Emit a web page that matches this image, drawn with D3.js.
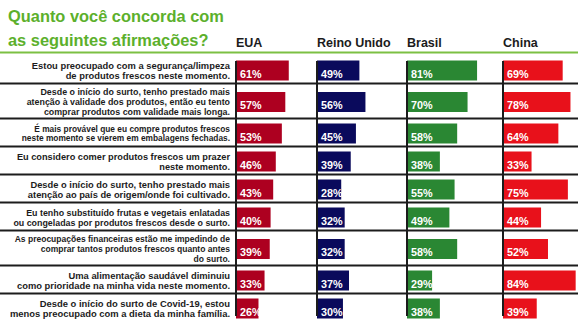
<!DOCTYPE html>
<html>
<head>
<meta charset="utf-8">
<script src="https://cdn.jsdelivr.net/npm/d3@7"></script>
<style>
  html, body { margin: 0; padding: 0; background: #fff; }
  svg { display: block; font-family: "Liberation Sans", Arial, sans-serif; }
</style>
</head>
<body>
<svg id="chart" width="582" height="324"></svg>
<script>
// ---- data ----
const titleLines = ["Quanto você concorda com", "as seguintes afirmações?"];
const countries = ["EUA", "Reino Unido", "Brasil", "China"];
const statements = [
  ["Estou preocupado com a segurança/limpeza", "de produtos frescos neste momento."],
  ["Desde o início do surto, tenho prestado mais", "atenção à validade dos produtos, então eu tento", "comprar produtos com validade mais longa."],
  ["É mais provável que eu compre produtos frescos", "neste momento se vierem em embalagens fechadas."],
  ["Eu considero comer produtos frescos um prazer", "neste momento."],
  ["Desde o início do surto, tenho prestado mais", "atenção ao país de origem/onde foi cultivado."],
  ["Eu tenho substituído frutas e vegetais enlatadas", "ou congeladas por produtos frescos desde o surto."],
  ["As preocupações financeiras estão me impedindo de", "comprar tantos produtos frescos quanto antes", "do surto."],
  ["Uma alimentação saudável diminuiu", "como prioridade na minha vida neste momento."],
  ["Desde o início do surto de Covid-19, estou", "menos preocupado com a dieta da minha família."]
];
const valuesEUA    = [61, 57, 53, 46, 43, 40, 39, 33, 26];
const valuesUK     = [49, 56, 45, 39, 28, 32, 32, 37, 30];
const valuesBrasil = [81, 70, 58, 38, 55, 49, 58, 29, 38];
const valuesChina  = [69, 78, 64, 33, 75, 44, 52, 84, 39];

// ---- styling / layout ----
const seriesValues = [valuesEUA, valuesUK, valuesBrasil, valuesChina];
const colors = ["#ad0020", "#0a0a5c", "#2a8733", "#e8111b"];
const colX = [236, 317, 407, 503];
const green = "#5cb02c";
const ink = "#1c1c1c";
// text box width each statement is fitted to (as in the source slide)
const labelFitWidth = [198, 203, 208, 213, 202, 216, 215, 213, 220];

const svg = d3.select("#chart");

// title
svg.append("g").selectAll("text").data(titleLines).join("text")
  .attr("x", 8)
  .attr("y", (d, i) => 22 + i * 23.5)
  .attr("fill", green)
  .attr("font-size", 16.4)
  .attr("font-weight", "bold")
  .text(d => d);

// headers
svg.append("g").selectAll("text").data(countries).join("text")
  .attr("x", (d, i) => colX[i])
  .attr("y", 47)
  .attr("fill", ink)
  .attr("font-size", 12.5)
  .attr("font-weight", "bold")
  .text(d => d);

// green rule
svg.append("line")
  .attr("x1", 0).attr("x2", 578).attr("y1", 52.5).attr("y2", 52.5)
  .attr("stroke", "#7cc043").attr("stroke-width", 2);

// rows layout: height depends on number of text lines
const rowH = statements.map(s => s.length === 3 ? 35 : 28);
const rowTop = [];
let acc = 55.5;
rowH.forEach(h => { rowTop.push(acc); acc += h; });

const x = d3.scaleLinear().domain([0, 100]).range([0, 86.5]);

// separators
svg.append("g").selectAll("line").data(rowTop.slice(1)).join("line")
  .attr("x1", 0).attr("x2", 578)
  .attr("y1", d => d).attr("y2", d => d)
  .attr("stroke", ink).attr("stroke-width", 2);

// labels (font fitted so the widest line fills the text box)
const baseFont = 9.4;
const lab = svg.append("g");
statements.forEach((lines, r) => {
  const t = lab.append("g").selectAll("text").data(lines).join("text")
    .attr("x", 230)
    .attr("text-anchor", "end")
    .attr("fill", ink)
    .attr("font-size", baseFont)
    .attr("font-weight", "bold")
    .text(d => d);
  let w = 0;
  t.each(function () { w = Math.max(w, this.getComputedTextLength()); });
  const fs = baseFont * labelFitWidth[r] / w;
  const lineH = fs * 1.13;
  const cy = rowTop[r] + rowH[r] / 2 + 1;
  const y0 = cy - (lines.length - 1) * lineH / 2 + fs * 0.36;
  t.attr("font-size", fs)
   .attr("y", (d, i) => y0 + i * lineH);
});

// bars
const barH = 20;
seriesValues.forEach((vals, c) => {
  const g = svg.append("g");
  g.selectAll("rect").data(vals).join("rect")
    .attr("x", colX[c])
    .attr("y", (d, i) => rowTop[i] + rowH[i] / 2 - barH / 2 + 1)
    .attr("width", d => x(d))
    .attr("height", barH)
    .attr("fill", colors[c]);
  g.selectAll("text").data(vals).join("text")
    .attr("x", colX[c] + 4)
    .attr("y", (d, i) => rowTop[i] + rowH[i] / 2 + barH / 2 - 2)
    .attr("fill", "#fff")
    .attr("font-size", 10.8)
    .attr("font-weight", "bold")
    .text(d => d + "%");
});

// vertical axis lines
svg.append("g").selectAll("line").data(colX).join("line")
  .attr("x1", d => d).attr("x2", d => d)
  .attr("y1", 61).attr("y2", 316)
  .attr("stroke", ink).attr("stroke-width", 2);
</script>
</body>
</html>
